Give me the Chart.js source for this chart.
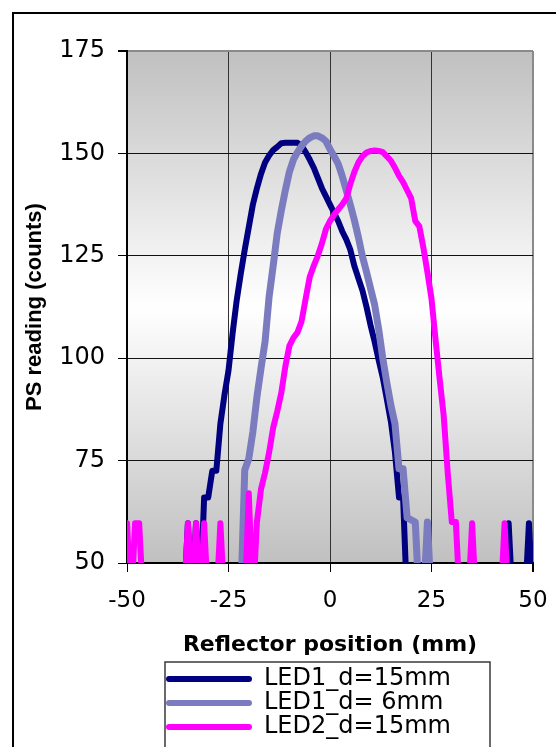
<!DOCTYPE html>
<html>
<head>
<meta charset="utf-8">
<title>PS reading vs reflector position</title>
<script src="https://cdn.jsdelivr.net/npm/chart.js@4.4.1/dist/chart.umd.min.js"></script>
<style>
  html, body { margin: 0; padding: 0; background: #fff; }
  #wrap { width: 556px; height: 747px; }
</style>
</head>
<body>
<div id="wrap"><canvas id="psChart" width="556" height="747"></canvas></div>
<script>
// reflector position (mm)
const positions = [
  -50, -49, -48, -47, -46, -45, -44, -43, -42, -41,
  -40, -39, -38, -37, -36, -35, -34, -33, -32, -31,
  -30, -29, -28, -27, -26, -25, -24, -23, -22, -21,
  -20, -19, -18, -17, -16, -15, -14, -13, -12, -11,
  -10, -9, -8, -7, -6, -5, -4, -3, -2, -1,
  0, 1, 2, 3, 4, 5, 6, 7, 8, 9,
  10, 11, 12, 13, 14, 15, 16, 17, 18, 19,
  20, 21, 22, 23, 24, 25, 26, 27, 28, 29,
  30, 31, 32, 33, 34, 35, 36, 37, 38, 39,
  40, 41, 42, 43, 44, 45, 46, 47, 48, 49,
  50
];

// PS reading (counts), values under 50 are off the bottom of the plot
const led1d15 = [
  40, 40, 40, 40, 40, 40, 40, 40, 40, 40,
  40, 40, 40, 40, 40, 59.7, 40, 59.7, 40, 66,
  66, 72.5, 72.5, 84, 91, 97, 106, 114, 120.5, 126.5,
  132, 137.5, 141.5, 145, 147.8, 149.5, 150.8, 151.6, 152.5, 152.6,
  152.6, 152.6, 152.6, 151.8, 150.3, 148.5, 146.5, 144, 141.5, 139.5,
  137.5, 135.5, 133.5, 131, 129, 126.5, 122.5, 119.5, 116.5, 112.5,
  108, 104, 99.5, 95.3, 90, 84.5, 77, 66, 66, 40,
  40, 40, 40, 40, 40, 40, 40, 40, 40, 40,
  40, 40, 40, 40, 40, 40, 40, 40, 40, 40,
  40, 40, 40, 40, 59.7, 40, 40, 40, 40, 59.7,
  40
];

const led1d6 = [
  40, 40, 40, 40, 40, 40, 40, 40, 40, 40,
  40, 40, 40, 40, 40, 40, 40, 40, 40, 40,
  40, 40, 40, 40, 40, 40, 40, 40, 40, 72.7,
  75.5, 82, 90.5, 97.5, 104, 115, 122.5, 130.5, 136, 141,
  145.5, 148.5, 150.3, 151.8, 153, 153.8, 154.3, 154.3, 153.8, 153,
  151, 149.3, 147.5, 144.5, 141, 137.5, 133.7, 129.5, 124.8, 121,
  117, 113, 107, 100, 94, 88.5, 84, 73, 73, 61,
  60.5, 60, 40, 40, 60, 40, 40, 40, 40, 40,
  40, 40, 40, 40, 40, 40, 40, 40, 40, 40,
  40, 40, 40, 40, 40, 40, 40, 40, 40, 40,
  40
];

const led2d15 = [
  59.7, 40, 59.7, 59.7, 40, 40, 40, 40, 40, 40,
  40, 40, 40, 40, 40, 59.7, 40, 59.7, 40, 59.7,
  40, 40, 40, 59.7, 40, 40, 40, 40, 40, 40,
  67, 40, 60, 68, 72, 77, 83, 87, 91.5, 98,
  103, 105, 106.3, 109, 114.5, 119.8, 122.6, 125, 128, 131.5,
  133.5, 135, 136.3, 137.5, 139, 142.5, 145.5, 147.8, 149.3, 150.2,
  150.6, 150.7, 150.6, 150.3, 149.3, 148.2, 146.5, 144.5, 143, 141,
  139, 133.5, 132.2, 127, 121, 114.5, 104.5, 95, 86, 72,
  60, 60, 40, 40, 40, 59.7, 40, 40, 40, 40,
  40, 40, 40, 59.7, 40, 40, 40, 40, 40, 40,
  40
];

const seriesLabels = ['LED1_d=15mm', 'LED1_d= 6mm', 'LED2_d=15mm'];
const seriesColors = ['#000080', '#7b7bbf', '#ff00ff'];
const xTicks = [-50, -25, 0, 25, 50];
const yTicks = [50, 75, 100, 125, 150, 175];

const toPoints = vals => positions.map((x, i) => ({ x: x, y: vals[i] }));

function lineSet(idx, vals, width) {
  return {
    label: seriesLabels[idx],
    data: toPoints(vals),
    borderColor: seriesColors[idx],
    backgroundColor: seriesColors[idx],
    borderWidth: width,
    pointRadius: 0,
    tension: 0,
    borderJoinStyle: 'round',
    borderCapStyle: 'round',
    clip: 0
  };
}

// background gradient, frames
const decor = {
  id: 'decor',
  beforeDraw(chart) {
    const { ctx, chartArea: a } = chart;
    ctx.save();
    ctx.fillStyle = '#fff';
    ctx.fillRect(0, 0, chart.width, chart.height);
    const g = ctx.createLinearGradient(0, a.top, 0, a.bottom);
    g.addColorStop(0, '#c0c0c0');
    g.addColorStop(0.5, '#ffffff');
    g.addColorStop(1, '#c0c0c0');
    ctx.fillStyle = g;
    ctx.fillRect(a.left, a.top, a.right - a.left, a.bottom - a.top);
    ctx.restore();
  },
  afterLayout(chart) {
    const lg = chart.legend;
    lg.left = 166;
    lg.top = 667;
    lg.bottom = chart.height;
  },
  afterDraw(chart) {
    const ctx = chart.ctx;
    ctx.save();
    ctx.fillStyle = '#000';
    ctx.fillRect(12, 12, chart.width, 2);
    ctx.fillRect(12, 12, 2, chart.height);
    ctx.strokeStyle = '#3a3a3a';
    ctx.lineWidth = 1.5;
    ctx.strokeRect(165, 662, 325, 120);
    ctx.restore();
  }
};

new Chart(document.getElementById('psChart'), {
  type: 'line',
  data: {
    datasets: [
      lineSet(2, led2d15, 6),
      lineSet(1, led1d6, 7),
      lineSet(0, led1d15, 6)
    ]
  },
  options: {
    responsive: false,
    animation: false,
    events: [],
    layout: { padding: { left: 14, right: 23, top: 51, bottom: 0 } },
    plugins: {
      tooltip: { enabled: false },
      legend: {
        position: 'bottom',
        align: 'start',
        labels: {
          font: { family: 'DejaVu Sans', size: 24 },
          color: '#000',
          boxWidth: 86,
          boxHeight: 6,
          padding: 0,
          useBorderRadius: true,
          borderRadius: 3,
          generateLabels: chart => chart.data.datasets.map((ds, i) => ({
            text: ds.label,
            fillStyle: ds.borderColor,
            strokeStyle: ds.borderColor,
            lineWidth: 0,
            borderRadius: 3,
            hidden: false,
            fontColor: '#000',
            datasetIndex: i
          })).reverse()
        }
      }
    },
    scales: {
      x: {
        type: 'linear',
        min: -50,
        max: 50,
        afterBuildTicks: s => { s.ticks = xTicks.map(v => ({ value: v })); },
        afterFit: s => { s.height = 102; },
        ticks: {
          autoSkip: false,
          maxRotation: 0,
          padding: 2,
          color: '#000',
          font: { family: 'DejaVu Sans', size: 23, lineHeight: 2.33 }
        },
        grid: {
          color: c => (c.tick && c.tick.value === 50) ? '#8a8a8a' : '#333',
          lineWidth: c => (c.tick && c.tick.value === 50) ? 2 : 1,
          tickColor: '#000',
          tickLength: 9
        },
        border: { color: '#000', width: 2 },
        title: {
          display: true,
          text: 'Reflector position (mm)',
          color: '#000',
          font: { family: 'DejaVu Sans', size: 22, weight: 'bold' },
          padding: { top: 0, bottom: 7 }
        }
      },
      y: {
        min: 50,
        max: 175,
        afterBuildTicks: s => { s.ticks = yTicks.map(v => ({ value: v })); },
        afterFit: s => { s.width = 113; },
        ticks: {
          padding: 13,
          color: '#000',
          font: { family: 'DejaVu Sans', size: 24 }
        },
        grid: {
          color: c => (c.tick && c.tick.value === 175) ? '#8a8a8a' : '#111',
          lineWidth: c => (c.tick && c.tick.value === 175) ? 2 : 1,
          tickColor: '#000',
          tickLength: 9
        },
        border: { color: '#000', width: 2 },
        title: {
          display: true,
          text: 'PS reading (counts)',
          color: '#000',
          font: { family: 'Liberation Sans', size: 22, weight: 'bold' },
          padding: { top: 8, bottom: 0 }
        }
      }
    }
  },
  plugins: [decor]
});
</script>
</body>
</html>
